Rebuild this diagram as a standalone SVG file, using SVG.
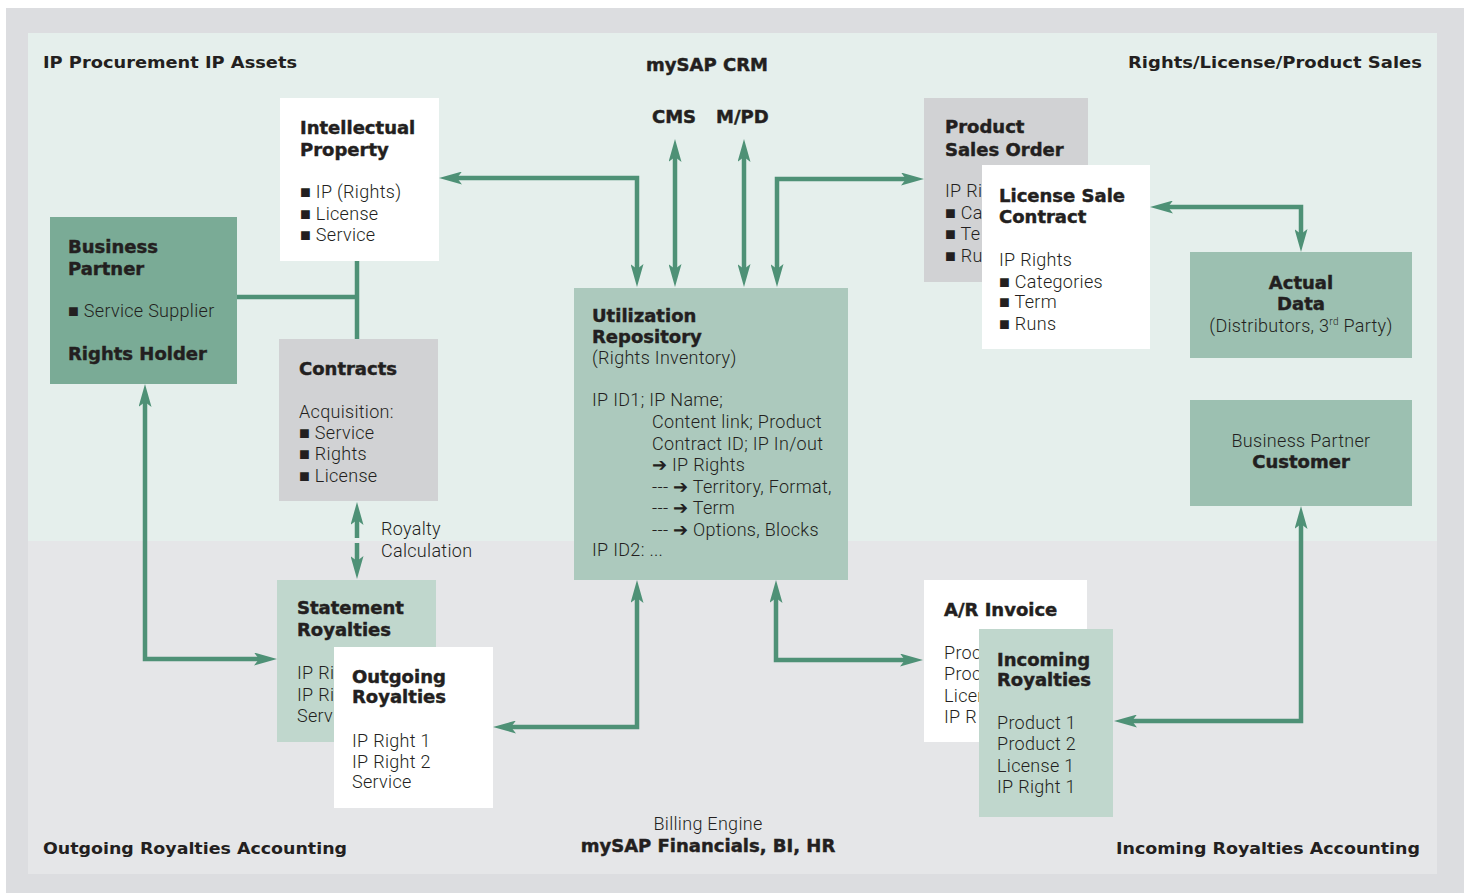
<svg xmlns="http://www.w3.org/2000/svg" width="1473" height="893" viewBox="0 0 1473 893">
  <defs>
    <style>
      .h { font-family: "DejaVu Sans", "Liberation Sans", sans-serif; font-weight: 700; font-size: 18px; fill: #231f20; stroke: #231f20; stroke-width: 0.45px; }
      .t { font-family: Roboto, "Liberation Sans", "DejaVu Sans", sans-serif; font-weight: 300; font-size: 18px; letter-spacing: 0.3px; fill: #231f20; }
      .s { font-family: "DejaVu Sans", "Liberation Sans", sans-serif; font-weight: 700; font-size: 16px; fill: #231f20; }
      .mid { text-anchor: middle; }
      .c { stroke: #4e9176; stroke-width: 4.5; fill: none; stroke-linejoin: miter; }
      .a { marker-start: url(#ah); marker-end: url(#ah); }
      .e { marker-end: url(#ah); }
      .white { fill: #ffffff; }
      .gray { fill: #d1d2d4; }
      .green1 { fill: #7aab96; }
      .green2 { fill: #9cc0b1; }
      .green3 { fill: #acc9bd; }
      .green4 { fill: #c0d7cd; }
    </style>
    <marker id="ah" markerUnits="userSpaceOnUse" markerWidth="23" markerHeight="13" viewBox="0 0 23 13" refX="5" refY="6.5" orient="auto-start-reverse">
      <path d="M0,0 L23,6.5 L0,13 L5,6.5 z" fill="#4e9176"/>
    </marker>
    <!-- visible strips of boxes that lie under another box -->
    <clipPath id="clip-pso"><rect x="924" y="98" width="58" height="184"/></clipPath>
    <clipPath id="clip-sr"><rect x="277" y="580" width="57" height="162"/></clipPath>
    <clipPath id="clip-ar"><rect x="924" y="580" width="55" height="162"/></clipPath>
  </defs>

  <!-- frame and the two zones -->
  <rect width="1473" height="893" fill="#ffffff"/>
  <rect x="6" y="8" width="1458" height="885" fill="#dcdde0"/>
  <rect x="28" y="33" width="1409" height="508" fill="#e5efec"/>
  <rect x="28" y="541" width="1409" height="333" fill="#e5e6e8"/>

  <!-- zone captions -->
  <g id="captions">
    <text class="s" x="43" y="68" textLength="254" lengthAdjust="spacingAndGlyphs">IP Procurement IP Assets</text>
    <text class="h mid" x="707" y="71">mySAP CRM</text>
    <text class="s" x="1128" y="68" textLength="294" lengthAdjust="spacingAndGlyphs">Rights/License/Product Sales</text>
    <text class="h" x="652" y="123">CMS</text>
    <text class="h" x="716" y="123">M/PD</text>
    <text class="s" x="43" y="854" textLength="304" lengthAdjust="spacingAndGlyphs">Outgoing Royalties Accounting</text>
    <text class="t mid" x="708" y="830">Billing Engine</text>
    <text class="h mid" x="708" y="852">mySAP Financials, BI, HR</text>
    <text class="s" x="1116" y="854" textLength="304" lengthAdjust="spacingAndGlyphs">Incoming Royalties Accounting</text>
  </g>

  <g id="intellectual-property">
    <rect class="white" x="280" y="98" width="159" height="163"/>
    <text class="h" x="300" y="134">Intellectual</text>
    <text class="h" x="300" y="156">Property</text>
    <text class="t" x="300" y="198">■ IP (Rights)</text>
    <text class="t" x="300" y="220">■ License</text>
    <text class="t" x="300" y="241">■ Service</text>
  </g>

  <g id="business-partner">
    <rect class="green1" x="50" y="217" width="187" height="167"/>
    <text class="h" x="68" y="253">Business</text>
    <text class="h" x="68" y="275">Partner</text>
    <text class="t" x="68" y="317">■ Service Supplier</text>
    <text class="h" x="68" y="360">Rights Holder</text>
  </g>

  <g id="contracts">
    <rect class="gray" x="279" y="339" width="159" height="162"/>
    <text class="h" x="299" y="375">Contracts</text>
    <text class="t" x="299" y="418">Acquisition:</text>
    <text class="t" x="299" y="439">■ Service</text>
    <text class="t" x="299" y="460">■ Rights</text>
    <text class="t" x="299" y="482">■ License</text>
  </g>

  <g id="utilization-repository">
    <rect class="green3" x="574" y="288" width="274" height="292"/>
    <text class="h" x="592" y="322">Utilization</text>
    <text class="h" x="592" y="343">Repository</text>
    <text class="t" x="592" y="364">(Rights Inventory)</text>
    <text class="t" x="592" y="406">IP ID1; IP Name;</text>
    <text class="t" x="652" y="428">Content link; Product</text>
    <text class="t" x="652" y="450">Contract ID; IP In/out</text>
    <text class="t" x="652" y="471">➔ IP Rights</text>
    <text class="t" x="652" y="493">--- ➔ Territory, Format,</text>
    <text class="t" x="652" y="514">--- ➔ Term</text>
    <text class="t" x="652" y="536">--- ➔ Options, Blocks</text>
    <text class="t" x="592" y="556">IP ID2:  ...</text>
  </g>

  <g id="product-sales-order">
    <rect class="gray" x="924" y="98" width="164" height="184"/>
    <text class="h" x="945" y="133">Product</text>
    <text class="h" x="945" y="156">Sales Order</text>
    <g clip-path="url(#clip-pso)">
      <text class="t" x="945" y="197">IP Ri</text>
      <text class="t" x="945" y="219">■ Ca</text>
      <text class="t" x="945" y="240">■ Te</text>
      <text class="t" x="945" y="262">■ Ru</text>
    </g>
  </g>

  <g id="license-sale-contract">
    <rect class="white" x="982" y="165" width="168" height="184"/>
    <text class="h" x="999" y="202">License Sale</text>
    <text class="h" x="999" y="223">Contract</text>
    <text class="t" x="999" y="266">IP Rights</text>
    <text class="t" x="999" y="288">■ Categories</text>
    <text class="t" x="999" y="308">■ Term</text>
    <text class="t" x="999" y="330">■ Runs</text>
  </g>

  <g id="actual-data">
    <rect class="green2" x="1190" y="252" width="222" height="106"/>
    <text class="h mid" x="1301" y="289">Actual</text>
    <text class="h mid" x="1301" y="310">Data</text>
    <text class="t mid" x="1301" y="332">(Distributors, 3<tspan font-size="10" dy="-7">rd</tspan><tspan dy="7"> Party)</tspan></text>
  </g>

  <g id="business-partner-customer">
    <rect class="green2" x="1190" y="400" width="222" height="106"/>
    <text class="t mid" x="1301" y="447">Business Partner</text>
    <text class="h mid" x="1301" y="468">Customer</text>
  </g>

  <g id="statement-royalties">
    <rect class="green4" x="277" y="580" width="159" height="162"/>
    <text class="h" x="297" y="614">Statement</text>
    <text class="h" x="297" y="636">Royalties</text>
    <g clip-path="url(#clip-sr)">
      <text class="t" x="297" y="679">IP Ri</text>
      <text class="t" x="297" y="701">IP Ri</text>
      <text class="t" x="297" y="722">Serv</text>
    </g>
  </g>

  <g id="outgoing-royalties">
    <rect class="white" x="334" y="647" width="159" height="161"/>
    <text class="h" x="352" y="683">Outgoing</text>
    <text class="h" x="352" y="703">Royalties</text>
    <text class="t" x="352" y="747">IP Right 1</text>
    <text class="t" x="352" y="768">IP Right 2</text>
    <text class="t" x="352" y="788">Service</text>
  </g>

  <g id="ar-invoice">
    <rect class="white" x="924" y="580" width="163" height="162"/>
    <text class="h" x="944" y="616">A/R Invoice</text>
    <g clip-path="url(#clip-ar)">
      <text class="t" x="944" y="659">Proc</text>
      <text class="t" x="944" y="680">Proc</text>
      <text class="t" x="944" y="702">Licen</text>
      <text class="t" x="944" y="723">IP R</text>
    </g>
  </g>

  <g id="incoming-royalties">
    <rect class="green4" x="979" y="629" width="134" height="188"/>
    <text class="h" x="997" y="666">Incoming</text>
    <text class="h" x="997" y="686">Royalties</text>
    <text class="t" x="997" y="729">Product 1</text>
    <text class="t" x="997" y="750">Product 2</text>
    <text class="t" x="997" y="772">License 1</text>
    <text class="t" x="997" y="793">IP Right 1</text>
  </g>

  <g id="royalty-calculation-label">
    <text class="t" x="381" y="535">Royalty</text>
    <text class="t" x="381" y="557">Calculation</text>
  </g>

  <g id="connectors">
    <!-- partner link to intellectual property and contracts -->
    <path class="c" d="M237,297 H357"/>
    <path class="c" d="M357,261 V339"/>
    <!-- repository to intellectual property -->
    <path class="c a" d="M457,178 H637 V269"/>
    <!-- CMS and M/PD -->
    <path class="c a" d="M675,157 V269"/>
    <path class="c a" d="M744,157 V269"/>
    <!-- repository to product sales order -->
    <path class="c a" d="M777,269 V179 H906"/>
    <!-- license sale contract to actual data -->
    <path class="c a" d="M1168,207 H1301 V234"/>
    <!-- royalty calculation -->
    <path class="c e" d="M357,538 V520"/>
    <path class="c e" d="M357,543 V561"/>
    <!-- partner to statement royalties -->
    <path class="c a" d="M145,402 V659 H259"/>
    <!-- repository to outgoing royalties -->
    <path class="c a" d="M637,598 V727 H511"/>
    <!-- repository to A/R invoice -->
    <path class="c a" d="M776,598 V660 H905"/>
    <!-- customer to incoming royalties -->
    <path class="c a" d="M1301,524 V721 H1132"/>
  </g>
</svg>
